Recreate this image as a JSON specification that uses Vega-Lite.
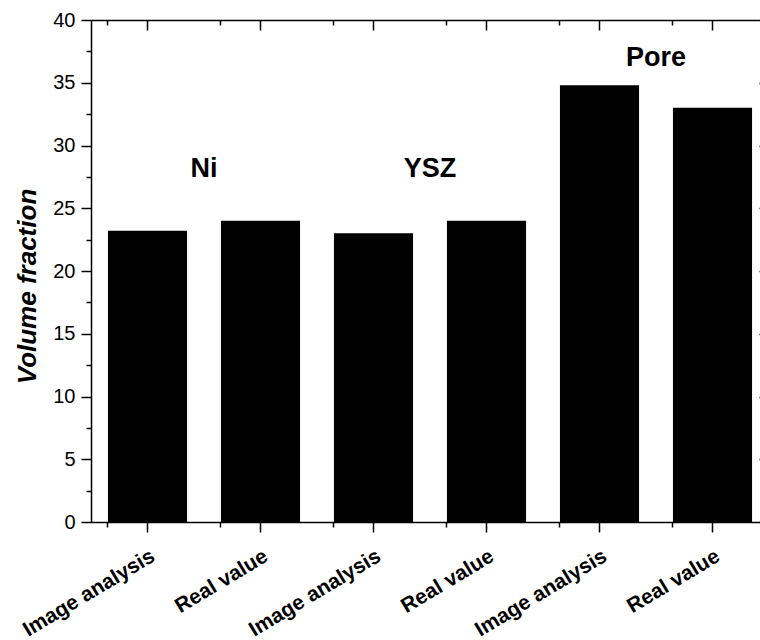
{
  "$schema": "https://vega.github.io/schema/vega-lite/v6.json",
  "width": 669,
  "height": 502,
  "autosize": {"type": "none"},
  "padding": {"left": 91, "top": 20, "right": 0, "bottom": 118},
  "background": "white",
  "config": {
    "view": {"stroke": null},
    "font": "Liberation Sans",
    "axis": {
      "domainColor": "black",
      "domainWidth": 1.5,
      "tickColor": "black",
      "tickWidth": 1.5,
      "labelColor": "black",
      "labelFont": "Liberation Sans",
      "titleColor": "black",
      "grid": false
    }
  },
  "datasets": {
    "bars": [
      {"id": "Ni|Image analysis", "value": 23.2},
      {"id": "Ni|Real value", "value": 24.0},
      {"id": "YSZ|Image analysis", "value": 23.0},
      {"id": "YSZ|Real value", "value": 24.0},
      {"id": "Pore|Image analysis", "value": 34.8},
      {"id": "Pore|Real value", "value": 33.0}
    ],
    "notes": [
      {"id": "Ni|Image analysis", "text": "Ni", "value": 27.5},
      {"id": "YSZ|Image analysis", "text": "YSZ", "value": 27.5},
      {"id": "Pore|Image analysis", "text": "Pore", "value": 36.3}
    ]
  },
  "resolve": {"axis": {"x": "independent", "y": "independent"}},
  "layer": [
    {
      "data": {"name": "bars"},
      "mark": {"type": "bar", "color": "black"},
      "encoding": {
        "x": {
          "field": "id", "type": "nominal",
          "scale": {
            "domain": ["Ni|Image analysis", "Ni|Real value", "YSZ|Image analysis", "YSZ|Real value", "Pore|Image analysis", "Pore|Real value"],
            "range": [0, 678],
            "paddingInner": 0.3,
            "paddingOuter": 0.15
          },
          "axis": {
            "orient": "bottom",
            "title": null,
            "labelExpr": "split(datum.label, '|')[1]",
            "labelAngle": -31,
            "labelAlign": "right",
            "labelBaseline": "top",
            "labelFontSize": 21,
            "labelFontWeight": "bold",
            "labelPadding": 13,
            "tickSize": 10
          }
        },
        "y": {
          "field": "value", "type": "quantitative",
          "scale": {"domain": [0, 40], "nice": false, "zero": true},
          "axis": {
            "orient": "left",
            "values": [0, 5, 10, 15, 20, 25, 30, 35, 40],
            "tickSize": 10,
            "labelFontSize": 20,
            "labelPadding": 6,
            "title": "Volume fraction",
            "titleFontSize": 26,
            "titleFontWeight": "bold",
            "titleFontStyle": "italic",
            "titleAngle": -90,
            "titleAlign": "center",
            "titleBaseline": "alphabetic",
            "titleX": -56,
            "titleY": 266
          }
        }
      }
    },
    {
      "data": {"name": "bars"},
      "mark": {"type": "bar", "opacity": 0},
      "encoding": {
        "x": {
          "field": "id", "type": "nominal",
          "axis": {"orient": "top", "title": null, "labels": false, "tickSize": -10}
        },
        "y": {
          "field": "value", "type": "quantitative",
          "axis": {"orient": "right", "offset": 9, "title": null, "labels": false, "tickSize": -10, "values": [0, 5, 10, 15, 20, 25, 30, 35, 40]}
        }
      }
    },
    {
      "data": {"name": "bars"},
      "mark": {"type": "bar", "opacity": 0},
      "encoding": {
        "x": {
          "field": "id", "type": "nominal",
          "axis": {"orient": "bottom", "title": null, "labels": false, "domain": false, "tickSize": 5, "bandPosition": 0}
        },
        "y": {
          "field": "value", "type": "quantitative",
          "axis": {"orient": "left", "title": null, "labels": false, "domain": false, "tickSize": 5, "values": [2.5, 7.5, 12.5, 17.5, 22.5, 27.5, 32.5, 37.5]}
        }
      }
    },
    {
      "data": {"name": "bars"},
      "mark": {"type": "bar", "opacity": 0},
      "encoding": {
        "x": {
          "field": "id", "type": "nominal",
          "axis": {"orient": "top", "title": null, "labels": false, "domain": false, "tickSize": -5, "bandPosition": 0}
        },
        "y": {
          "field": "value", "type": "quantitative",
          "axis": {"orient": "right", "offset": 9, "title": null, "labels": false, "domain": false, "tickSize": -5, "values": [2.5, 7.5, 12.5, 17.5, 22.5, 27.5, 32.5, 37.5]}
        }
      }
    },
    {
      "data": {"name": "notes"},
      "mark": {"type": "text", "font": "Liberation Sans", "fontSize": 27, "fontWeight": "bold", "align": "center", "baseline": "alphabetic", "color": "black"},
      "encoding": {
        "x": {"field": "id", "type": "nominal", "bandPosition": 1.215, "axis": null},
        "y": {"field": "value", "type": "quantitative", "axis": null},
        "text": {"field": "text"}
      }
    }
  ]
}
